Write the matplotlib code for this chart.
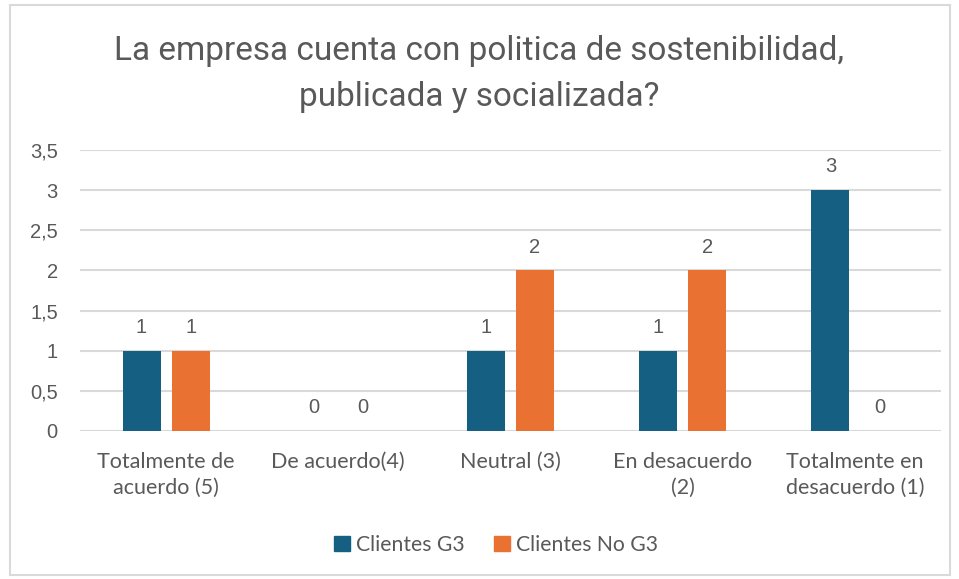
import numpy as np
import matplotlib.pyplot as plt
from matplotlib.patches import Rectangle, Patch

categories = ['Totalmente de\nacuerdo (5)', 'De acuerdo(4)', 'Neutral (3)',
              'En desacuerdo\n(2)', 'Totalmente en\ndesacuerdo (1)']
g3 = [1, 0, 1, 1, 3]
no_g3 = [1, 0, 2, 2, 0]
series_names = ['Clientes G3', 'Clientes No G3']
yticks = [0, 0.5, 1, 1.5, 2, 2.5, 3, 3.5]
ytick_labels = ['0', '0,5', '1', '1,5', '2', '2,5', '3', '3,5']

BLUE = '#156082'
ORANGE = '#E97132'
GRAY = '#595959'
GRID = '#D9D9D9'

fig = plt.figure(figsize=(9.59, 5.79), dpi=100)
fig.patches.append(Rectangle((10 / 959, 4 / 579), 940 / 959, 570 / 579,
                             transform=fig.transFigure, fill=False,
                             edgecolor=GRID, linewidth=1.5))

ax = fig.add_axes([80 / 959, 1 - 431 / 579, 861 / 959, 281 / 579])
x = np.arange(len(categories))
w = 0.22
off = 0.1425
b1 = ax.bar(x - off, g3, w, color=BLUE, zorder=3)
b2 = ax.bar(x + off, no_g3, w, color=ORANGE, zorder=3)

for bars, vals in ((b1, g3), (b2, no_g3)):
    for r, v in zip(bars, vals):
        ax.annotate(str(v), (r.get_x() + r.get_width() / 2, v),
                    xytext=(0, 10), textcoords='offset points',
                    ha='center', va='bottom', fontsize=14.5, color=GRAY,
                    family='Liberation Sans')

ax.set_xlim(-0.5, len(categories) - 0.5)
ax.set_ylim(0, 3.5)
ax.set_yticks(yticks)
ax.set_yticklabels(ytick_labels, family='Liberation Sans', fontsize=14.5, color=GRAY)
ax.set_xticks(x)
ax.set_xticklabels(categories, family='Lato', fontsize=15.5, color=GRAY,
                   linespacing=1.38)
ax.tick_params(length=0)
ax.tick_params(axis='x', pad=15)
ax.tick_params(axis='y', pad=16)
for s in ax.spines.values():
    s.set_visible(False)
ax.yaxis.grid(True, color=GRID, linewidth=1.5, zorder=0)
ax.set_axisbelow(True)

fig.text(0.5, 1 - 74 / 579, 'La empresa cuenta con politica de sostenibilidad,\npublicada y socializada?',
         ha='center', va='center', fontsize=24, color=GRAY, family='Roboto',
         linespacing=1.55)

handles = [Patch(color=BLUE), Patch(color=ORANGE)]
leg = fig.legend(handles, series_names, loc='center', bbox_to_anchor=(496 / 959, 1 - 545 / 579),
                 ncol=2, frameon=False, handlelength=0.75, handleheight=0.75,
                 handletextpad=0.3, columnspacing=1.4,
                 prop={'family': 'Lato', 'size': 15.2})
for t in leg.get_texts():
    t.set_color(GRAY)

fig.savefig('out.png', dpi=100, facecolor='white')
